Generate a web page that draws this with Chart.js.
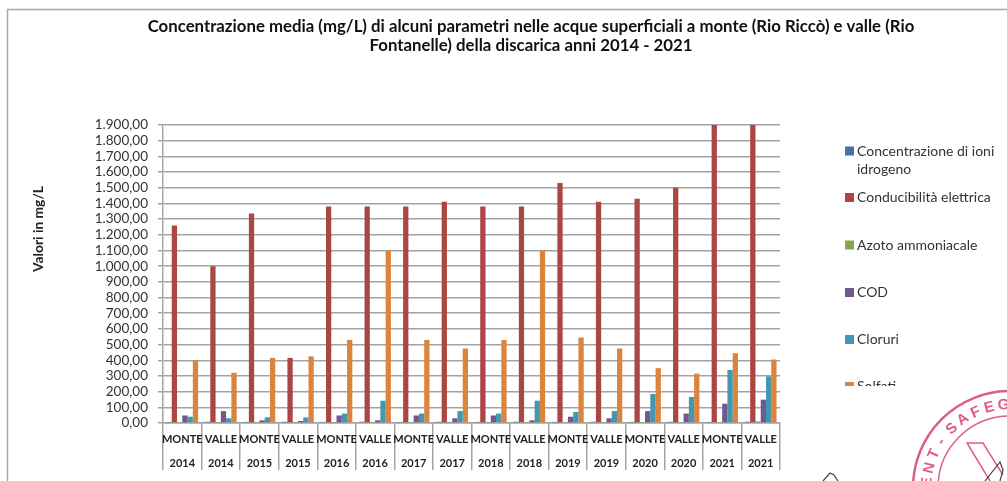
<!DOCTYPE html>
<html>
<head>
<meta charset="utf-8">
<title>Concentrazione media</title>
<script src="https://cdn.jsdelivr.net/npm/chart.js@4"></script>
<style>
  html, body { margin: 0; padding: 0; background: #fff; overflow: hidden; }
  #wrap { position: relative; width: 1007px; height: 481px; }
  #wrap canvas { position: absolute; left: 0; top: 0; }
</style>
</head>
<body>
<div id="wrap"><canvas id="chart" width="1007" height="481"></canvas></div>
<script>
const categories = [
  ['MONTE', '2014'], ['VALLE', '2014'], ['MONTE', '2015'], ['VALLE', '2015'],
  ['MONTE', '2016'], ['VALLE', '2016'], ['MONTE', '2017'], ['VALLE', '2017'],
  ['MONTE', '2018'], ['VALLE', '2018'], ['MONTE', '2019'], ['VALLE', '2019'],
  ['MONTE', '2020'], ['VALLE', '2020'], ['MONTE', '2021'], ['VALLE', '2021']
];

const yTickLabels = ['0,00', '100,00', '200,00', '300,00', '400,00', '500,00', '600,00', '700,00', '800,00', '900,00',
  '1.000,00', '1.100,00', '1.200,00', '1.300,00', '1.400,00', '1.500,00', '1.600,00', '1.700,00', '1.800,00', '1.900,00'];

const ioniIdrogeno = [7, 8, 7, 8, 7, 8, 7, 8, 7, 8, 7, 8, 7, 8, 7, 8];
const conducibilita = [1260, 1000, 1335, 415, 1380, 1380, 1380, 1410, 1380, 1380, 1530, 1410, 1430, 1500, 1950, 1950];
const azoto = [2, 2, 2, 2, 2, 2, 2, 2, 3, 3, 3, 3, 4, 3, 4, 10];
const cod = [48, 76, 17, 13, 48, 17, 48, 30, 48, 17, 40, 30, 76, 60, 123, 149];
const cloruri = [40, 30, 36, 36, 60, 142, 60, 76, 60, 142, 70, 76, 185, 166, 338, 297];
const solfati = [400, 320, 415, 425, 530, 1100, 530, 475, 530, 1100, 545, 475, 350, 315, 445, 405];

const titleLines = [
  'Concentrazione media (mg/L) di alcuni parametri nelle acque superficiali a monte (Rio Riccò) e valle (Rio',
  'Fontanelle) della discarica anni 2014 - 2021'
];

const textColor = '#333';
const gridColor = '#a3a3a3';

// title, axis title, legend (cut at the bottom like the original) and the stamp corner
const pageText = {
  id: 'pageText',
  afterDraw(chart) {
    const ctx = chart.ctx;
    ctx.save();
    ctx.textBaseline = 'middle';

    // frame of the pasted picture
    ctx.strokeStyle = '#a8a8a8';
    ctx.lineWidth = 1.5;
    ctx.beginPath();
    ctx.moveTo(7.5, 481);
    ctx.lineTo(7.5, 9.5);
    ctx.lineTo(1007, 9.5);
    ctx.stroke();

    ctx.fillStyle = '#111';
    ctx.textAlign = 'center';
    ctx.font = 'bold 16.8px Lato';
    ctx.fillText(titleLines[0], 531, 27);
    ctx.fillText(titleLines[1], 531, 46);

    ctx.save();
    ctx.translate(39, 229);
    ctx.rotate(-Math.PI / 2);
    ctx.font = 'bold 13.8px Lato';
    ctx.fillStyle = '#222';
    ctx.fillText('Valori in mg/L', 0, 0);
    ctx.restore();

    // legend
    ctx.save();
    ctx.beginPath();
    ctx.rect(840, 130, 167, 256);
    ctx.clip();
    ctx.textAlign = 'left';
    ctx.font = '14px Lato';
    const rows = [151, 197.5, 245, 292.5, 339.5, 386.5];
    chart.data.datasets.forEach((ds, i) => {
      ctx.fillStyle = ds.backgroundColor;
      ctx.fillRect(845, rows[i] - 4.5, 9, 9);
      ctx.fillStyle = textColor;
      const lines = Array.isArray(ds.label) ? ds.label : [ds.label];
      lines.forEach((line, n) => ctx.fillText(line, 857, rows[i] + n * 18));
    });
    ctx.restore();

    // stamp
    ctx.strokeStyle = '#dd5f83';
    ctx.lineWidth = 2.5;
    ctx.beginPath();
    ctx.arc(1010, 488, 97, Math.PI, Math.PI * 1.5);
    ctx.stroke();
    ctx.lineWidth = 1.5;
    ctx.beginPath();
    ctx.arc(1010, 488, 72, Math.PI, Math.PI * 1.5);
    ctx.stroke();
    ctx.beginPath();
    ctx.moveTo(990, 481);
    ctx.lineTo(967, 443);
    ctx.lineTo(983, 443);
    ctx.lineTo(1003, 475);
    ctx.stroke();
    ctx.fillStyle = '#dd5f83';
    ctx.font = 'bold 15px "Liberation Sans"';
    ctx.textAlign = 'center';
    const stampText = 'ENT-SAFEG';
    const stampAngles = [184, 194, 204, 214, 225.5, 235.5, 245.5, 255.5, 265.5];
    stampText.split('').forEach((ch, i) => {
      const a = stampAngles[i] * Math.PI / 180;
      ctx.save();
      ctx.translate(1010 + Math.cos(a) * 83, 488 + Math.sin(a) * 83);
      ctx.rotate(a + Math.PI / 2);
      ctx.fillText(ch, 0, 0);
      ctx.restore();
    });
    // bits of the signature over the stamp
    ctx.strokeStyle = '#444';
    ctx.lineWidth = 1.2;
    ctx.beginPath();
    ctx.moveTo(823, 481);
    ctx.lineTo(830, 473);
    ctx.lineTo(834, 475);
    ctx.lineTo(838, 481);
    ctx.moveTo(985, 481);
    ctx.lineTo(1000, 462);
    ctx.lineTo(1003, 470);
    ctx.lineTo(1000, 481);
    ctx.stroke();
    ctx.restore();
  }
};

new Chart(document.getElementById('chart'), {
  type: 'bar',
  data: {
    labels: categories,
    datasets: [
      { label: ['Concentrazione di ioni', 'idrogeno'], data: ioniIdrogeno, backgroundColor: '#4572a7' },
      { label: 'Conducibilità elettrica', data: conducibilita, backgroundColor: '#aa4643' },
      { label: 'Azoto ammoniacale', data: azoto, backgroundColor: '#89a54e' },
      { label: 'COD', data: cod, backgroundColor: '#71588f' },
      { label: 'Cloruri', data: cloruri, backgroundColor: '#4198af' },
      { label: 'Solfati', data: solfati, backgroundColor: '#db843d' }
    ]
  },
  options: {
    responsive: false,
    animation: false,
    categoryPercentage: 0.82,
    barPercentage: 1,
    layout: { padding: { left: 0, top: 125, right: 227, bottom: 0 } },
    plugins: {
      legend: { display: false },
      title: { display: false },
      tooltip: { enabled: false }
    },
    scales: {
      x: {
        afterFit: scale => { scale.height = 58; },
        border: { color: gridColor, width: 1.5 },
        grid: { drawOnChartArea: false, color: gridColor, lineWidth: 1.5, tickLength: 47 },
        ticks: {
          autoSkip: false,
          maxRotation: 0,
          padding: -43,
          color: '#222',
          font: { family: 'Lato', size: 11, weight: 'bold', lineHeight: 2.2 }
        }
      },
      y: {
        min: 0,
        max: 1900,
        afterFit: scale => { scale.width = 163; },
        border: { color: gridColor, width: 1.5 },
        grid: { color: gridColor, lineWidth: 1.5, tickLength: 5 },
        ticks: {
          stepSize: 100,
          autoSkip: false,
          padding: 10,
          color: textColor,
          font: { family: 'Lato', size: 13.5 },
          callback: (value, index) => yTickLabels[index]
        }
      }
    }
  },
  plugins: [pageText]
});
</script>
</body>
</html>
